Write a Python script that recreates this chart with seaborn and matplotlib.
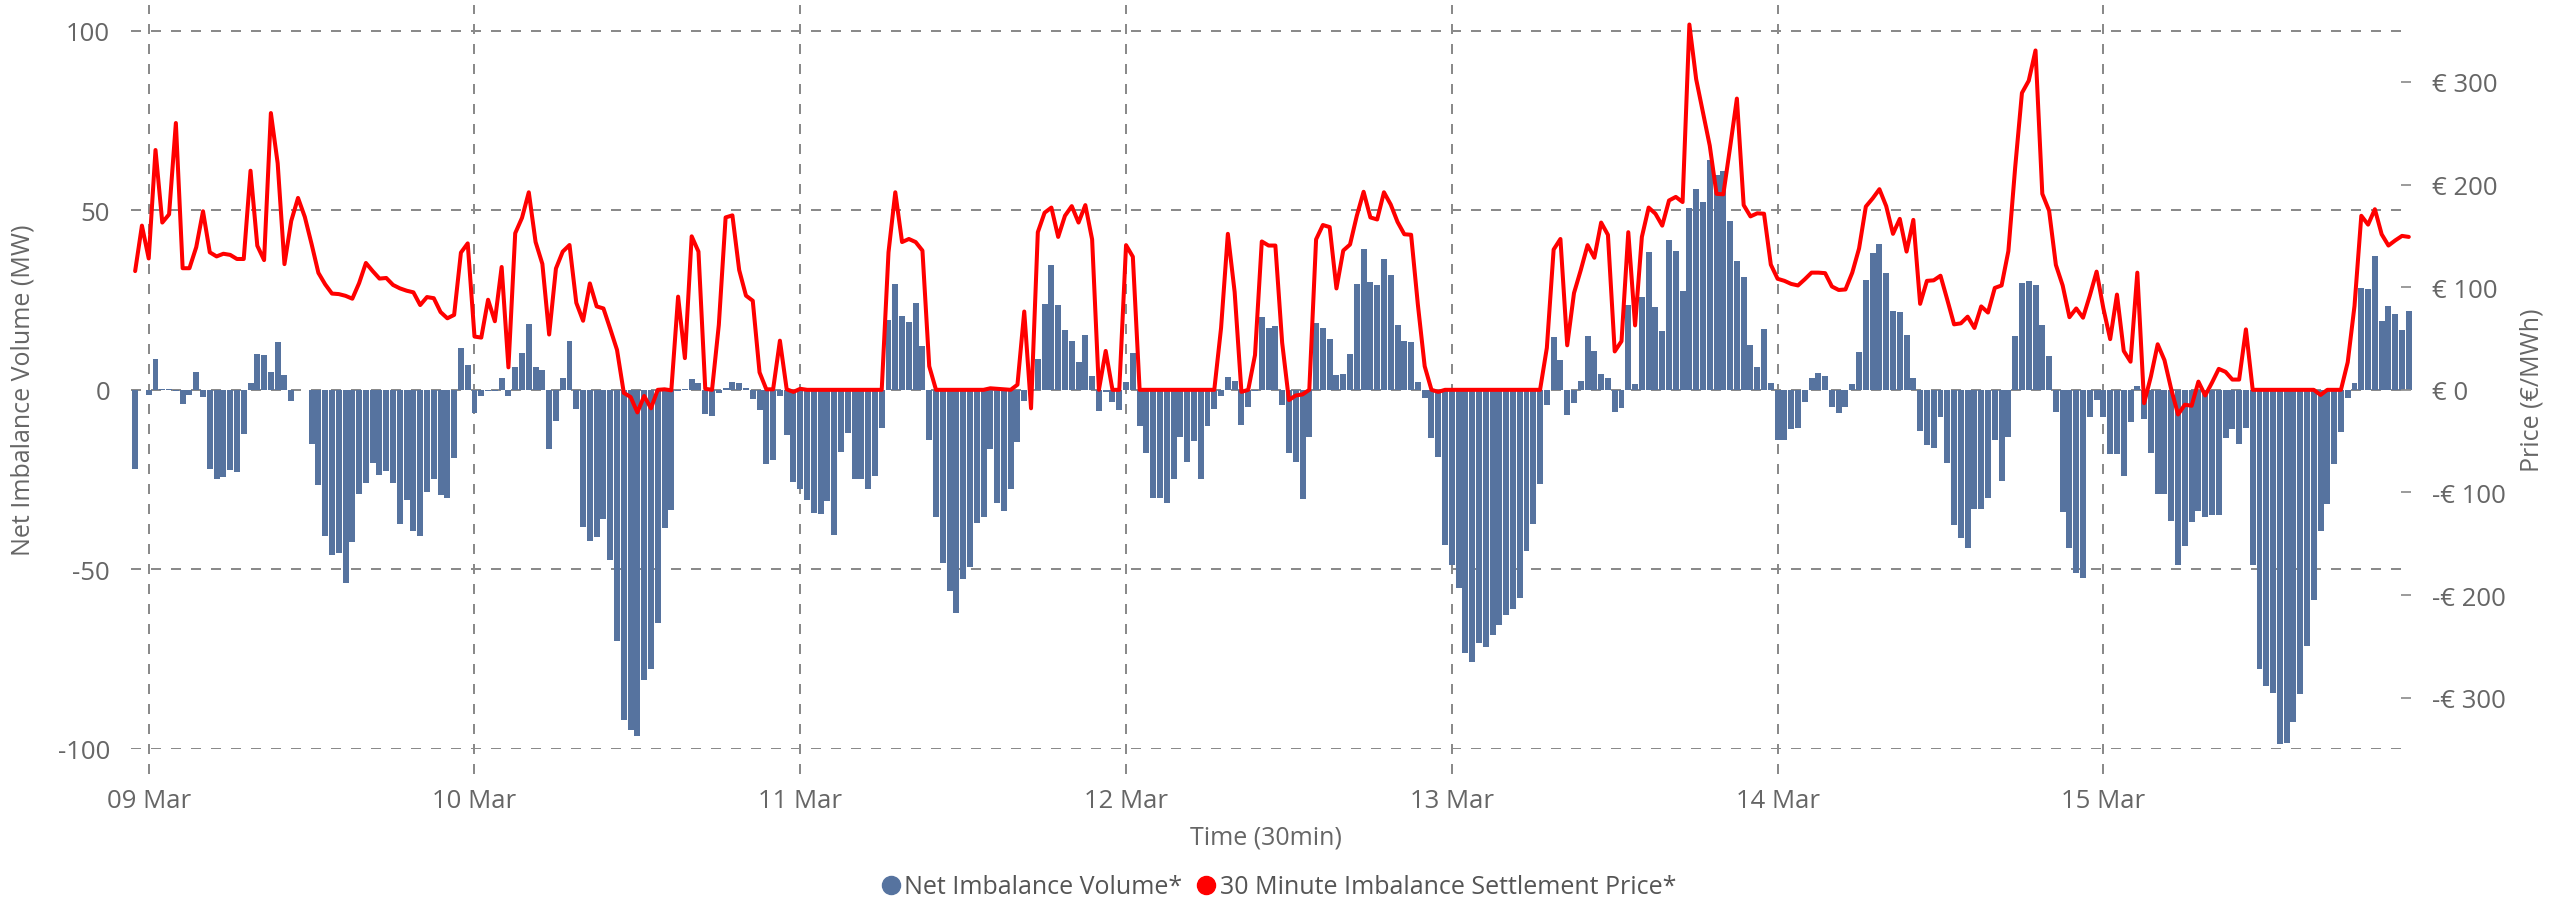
import matplotlib
matplotlib.use("Agg")
import matplotlib.pyplot as plt
from matplotlib.lines import Line2D
import seaborn as sns
import numpy as np
import pandas as pd

# ---------------- data ----------------
start_time = "2024-03-08 23:00"
n_periods = 336
day_labels_from = "2024-03-09"
day_labels_to = "2024-03-15"

net_imbalance_mw = [
    -22, 0, -1.4, 8.7, 0.3, 0.2, -0.3, -3.9, -1.4, 5,
    -1.9, -22, -24.9, -24.4, -22.3, -23, -12.4, 1.9, 10, 9.8,
    5, 13.3, 4.2, -3, 0, 0, -15.2, -26.5, -40.8, -46.1,
    -45.3, -53.9, -42.5, -28.9, -26, -20.5, -23.8, -22.6, -25.8, -37.4,
    -30.8, -39.2, -40.8, -28.4, -24.9, -29.2, -30, -18.9, 11.7, 7,
    -6.5, -1.8, -0.2, -0.2, 3.3, -1.7, 6.3, 10.2, 18.3, 6.4,
    5.5, -16.5, -8.7, 3.4, 13.6, -5.4, -38.1, -42, -41, -35.9,
    -47.3, -70, -91.8, -94.6, -96.3, -80.7, -77.8, -65, -38.4, -33.4,
    -0.4, 0.2, 3, 1.8, -6.8, -7.4, -0.9, 0.6, 2.1, 1.8,
    0.6, -2.6, -5.5, -20.7, -19.5, -1.6, -12.6, -25.7, -27.6, -30.7,
    -34.4, -34.7, -31, -40.3, -17.2, -11.9, -24.7, -24.7, -27.7, -23.9,
    -10.5, 19.5, 29.4, 20.6, 18.9, 24.1, 12.2, -14.1, -35.5, -48.3,
    -56.1, -62.2, -52.8, -49.4, -37.2, -35.5, -16.6, -31.4, -33.7, -27.7,
    -14.6, -3, -0.3, 8.7, 23.9, 34.8, 23.6, 16.6, 13.6, 7.7,
    15.2, 3.8, -5.8, -0.6, -3.3, -5.5, 2.1, 10.2, -10, -17.7,
    -30.2, -30, -31.4, -24.7, -13.2, -20.2, -14.3, -24.7, -10.2, -5.3,
    -1.6, 3.6, 2.4, -9.9, -4.7, -0.3, 20.3, 17.2, 17.8, -4.1,
    -17.5, -20, -30.3, -13.1, 18.6, 17.2, 14.2, 4.1, 4.4, 9.9,
    29.4, 39.2, 30, 29.1, 36.4, 32, 18, 13.6, 13.4, 2.1,
    -2.4, -13.5, -18.6, -43.3, -48.9, -55.3, -73.4, -75.7, -70.6, -71.7,
    -68.2, -65.6, -62.8, -61.1, -58, -45, -37.4, -26.1, -4.1, 14.6,
    8.2, -7.1, -3.7, 2.4, 14.9, 10.8, 4.4, 3.3, -6.3, -5,
    23.6, 1.6, 25.9, 38.4, 23, 16.3, 41.8, 38.6, 27.6, 50.6,
    56, 52.3, 63.9, 59.8, 60.8, 47, 35.8, 31.4, 12.5, 6.4,
    16.9, 1.8, -14.1, -14.1, -10.9, -10.5, -3.3, 3.4, 4.7, 3.8,
    -4.7, -6.5, -4.7, 1.6, 10.5, 30.5, 38.1, 40.6, 32.5, 21.9,
    21.6, 15.2, 3.3, -11.5, -15.3, -16.2, -7.7, -20.3, -37.5, -41.3,
    -44, -33.2, -33.2, -30, -14.1, -25.4, -13.2, 14.9, 29.7, 30.3,
    29.1, 18, 9.4, -6.3, -33.9, -44, -50.9, -52.4, -7.5, -2.7,
    -7.7, -18, -17.8, -24, -9, 1.1, -8.2, -17.5, -29, -29,
    -36.6, -48.9, -43.6, -36.9, -33.7, -35.5, -34.9, -34.9, -13.5, -10.8,
    -15.2, -10.5, -48.9, -77.8, -82.4, -84.5, -98.7, -98.2, -92.6, -84.8,
    -71.4, -58.4, -39.2, -31.7, -20.7, -11.6, -2.4, 1.8, 28.4, 28.1,
    37.2, 19.2, 23.3, 21.2, 16.6, 21.9,
]

settlement_price_eur = [
    115.7, 160, 128, 233.7, 163, 171, 260, 118.5, 118.5, 139,
    174, 134, 130, 132.6, 131.5, 127.5, 127.5, 213.5, 140.4, 126.4,
    269.7, 220.8, 122.5, 164.6, 187, 168.5, 142, 114, 102.8, 93.8,
    93.3, 91.6, 88.8, 104, 123.6, 115.7, 108.4, 109, 102.2, 98.9,
    96.6, 95, 82.6, 90.4, 89.3, 75.8, 69.7, 73, 133.7, 142.7,
    51.9, 50.9, 87.8, 66.8, 119.7, 21.9, 152.6, 167.6, 192.5, 144.1,
    122.7, 53.9, 118.2, 134.7, 141.1, 84.8, 67.3, 103.7, 81.3, 79.3,
    59.4, 38.9, -3, -7, -22, -6, -18, 0, 0.5, -0.5,
    90.8, 30.9, 149.6, 134.7, 1, 0, 63.3, 168, 170, 116.7,
    91.8, 86.8, 17, 0.5, 0.5, 47.9, 0.5, -2, 1, 0,
    0, 0, 0, 0, 0, 0, 0, 0, 0, 0,
    0, 134, 192.5, 144, 147, 144, 135.7, 23, 0, 0,
    0, 0, 0, 0, 0, 0, 1.5, 1, 0.5, 0,
    5, 76.3, -18, 153.6, 172.6, 177.6, 149, 169.6, 179, 163,
    180, 146.6, 0, 37.9, 0, 0, 141, 129.7, 0, 0,
    0, 0, 0, 0, 0, 0, 0, 0, 0, 0,
    60.3, 152, 95.3, -2, 0, 33.9, 144.6, 140.6, 140.6, 45.9,
    -10, -5.5, -4.5, 0, 146.6, 160.6, 158.6, 98.8, 135.7, 141.6,
    169.6, 193, 168, 166, 192.5, 180.5, 163.6, 151.6, 151.1, 82.8,
    23, 0, -2, 0, 0, 0, 0, 0, 0, 0,
    0, 0, 0, 0, 0, 0, 0, 0, 40.9, 136.7,
    147, 43.4, 94.3, 116.7, 141, 128.7, 163, 151, 37.4, 47.4,
    153.6, 62.8, 149, 177.6, 171.6, 160, 184.5, 188, 183, 356,
    302.7, 270.3, 238, 191, 190.5, 236.4, 283.8, 180, 169, 172,
    171.6, 122, 108.2, 106.2, 103.2, 101.7, 107.7, 114.2, 114.2, 113.7,
    100.7, 97.3, 97.8, 114.2, 137.7, 178.6, 186.5, 195.5, 179, 152,
    166.6, 134.7, 165.6, 83.8, 106.2, 106.7, 111.2, 87.8, 63.8, 64.8,
    71.3, 60.3, 81.3, 75.3, 99.3, 101.7, 135.2, 216.5, 289.3, 301.2,
    330.7, 191, 174.6, 121.7, 101.7, 70.8, 79.3, 70.3, 91.8, 115.2,
    79.3, 49.4, 92.8, 37.9, 27.4, 114.2, -13, 13, 44.4, 28.9,
    0.5, -24, -14.5, -15.5, 8, -5.5, 7, 20.4, 17.5, 10,
    10, 58.9, 0, 0, 0, 0, 0, 0, 0, 0,
    0, 0, -5, 0, 0, 0, 26.9, 81.8, 169.6, 161,
    176, 151.6, 140.6, 145.6, 150, 149,
]

volume_ticks = [-100, -50, 0, 50, 100]
price_ticks = [-300, -200, -100, 0, 100, 200, 300]

series_names = ["Net Imbalance Volume*", "30 Minute Imbalance Settlement Price*"]

# ---------------- styling ----------------
BAR_COLOR = "#56739f"
LINE_COLOR = "#ff0000"
GRID_COLOR = "#8a8a8a"
TEXT_COLOR = "#666666"

sns.set_style("white")
plt.rcParams["font.family"] = ["Open Sans", "DejaVu Sans"]

times = pd.date_range(start_time, periods=n_periods, freq="30min")
origin = pd.Timestamp(day_labels_from)
slot = pd.Timedelta("30min")
x_pos = np.asarray((times - origin) / slot, dtype=float)
days = pd.date_range(day_labels_from, day_labels_to, freq="D")
day_pos = np.asarray((days - origin) / slot, dtype=float)
day_lbl = [d.strftime("%d %b") for d in days]

df = pd.DataFrame({"x": x_pos, "volume": net_imbalance_mw, "price": settlement_price_eur})

W, H = 2563, 904
fig = plt.figure(figsize=(W / 100, H / 100), dpi=100)
fig.patch.set_facecolor("white")

px_left, px_right, px_top, px_bottom = 131, 2401, 6, 750
ax = fig.add_axes([px_left / W, (H - px_bottom) / H,
                   (px_right - px_left) / W, (px_bottom - px_top) / H])

sns.barplot(data=df, x="x", y="volume", native_scale=True, width=0.88,
            color=BAR_COLOR, saturation=1, errorbar=None, ax=ax, zorder=2)
for p in ax.patches:
    p.set_clip_on(False)
    p.set_linewidth(0)

ax.set_xlim(-2.61, 331.85)
ax.set_ylim(-100, 107.15)

ax2 = ax.twinx()
sns.lineplot(data=df, x="x", y="price", ax=ax2, color=LINE_COLOR,
             linewidth=2.9, legend=False)
for ln in ax2.lines:
    ln.set_clip_on(False)
    ln.set_solid_joinstyle("round")
ax2.set_ylim(-350, 375.0)
ax2.set_xlim(-2.61, 331.85)

# grid
ax.set_axisbelow(True)
ax.yaxis.grid(True, color=GRID_COLOR, linewidth=1.44, linestyle=(0, (5, 5)))
ax.xaxis.grid(False)
ax2.grid(False)
frac_below = 25 / (px_bottom - px_top)
for xp in day_pos:
    ax.axvline(xp, ymin=-frac_below, ymax=1, color=GRID_COLOR, linewidth=1.44,
               linestyle=(0, (5, 5)), clip_on=False, zorder=0.5)

for a in (ax, ax2):
    for s in a.spines.values():
        s.set_visible(False)

# ticks
ax.set_yticks(volume_ticks)
ax.set_yticklabels([str(v) for v in volume_ticks])
ax.set_xticks(day_pos)
ax.set_xticklabels(day_lbl)
ax.tick_params(axis="y", length=0, pad=15, labelsize=18.5, labelcolor=TEXT_COLOR)
ax.tick_params(axis="x", length=0, pad=28, labelsize=18.5, labelcolor=TEXT_COLOR)

ax2.set_yticks(price_ticks)
ax2.set_yticklabels([f"€ {v}" if v >= 0 else f"-€ {abs(v)}" for v in price_ticks])
ax2.tick_params(axis="y", length=7.2, width=1.2, color=GRID_COLOR, pad=15,
                labelsize=18.5, labelcolor=TEXT_COLOR)

# axis titles
ax.set_xlabel("Time (30min)", fontsize=18, color=TEXT_COLOR, va="center")
ax.xaxis.set_label_coords(0.5, -(838 - px_bottom) / (px_bottom - px_top))
ax.set_ylabel("Net Imbalance Volume (MW)", fontsize=18, color=TEXT_COLOR,
              va="center", ha="center")
ax.yaxis.set_label_coords((23.5 - px_left) / (px_right - px_left),
                          (px_bottom - 390) / (px_bottom - px_top))
ax2.set_ylabel("Price (€/MWh)", fontsize=18, color=TEXT_COLOR,
               va="center", ha="center")
ax2.yaxis.set_label_coords((2531.7 - px_left) / (px_right - px_left),
                           (px_bottom - 390) / (px_bottom - px_top))

# legend
handles = [
    Line2D([], [], marker="o", linestyle="", markersize=13,
           markerfacecolor=BAR_COLOR, markeredgecolor=BAR_COLOR),
    Line2D([], [], marker="o", linestyle="", markersize=13,
           markerfacecolor=LINE_COLOR, markeredgecolor=LINE_COLOR),
]
fig.legend(handles, series_names, loc="center", bbox_to_anchor=(1278 / W, (H - 888) / H),
           ncol=2, frameon=False, fontsize=18, handletextpad=0.1,
           columnspacing=0.5, handlelength=0.9, labelcolor="#555555")

fig.savefig("out.png", dpi=100, facecolor="white")
